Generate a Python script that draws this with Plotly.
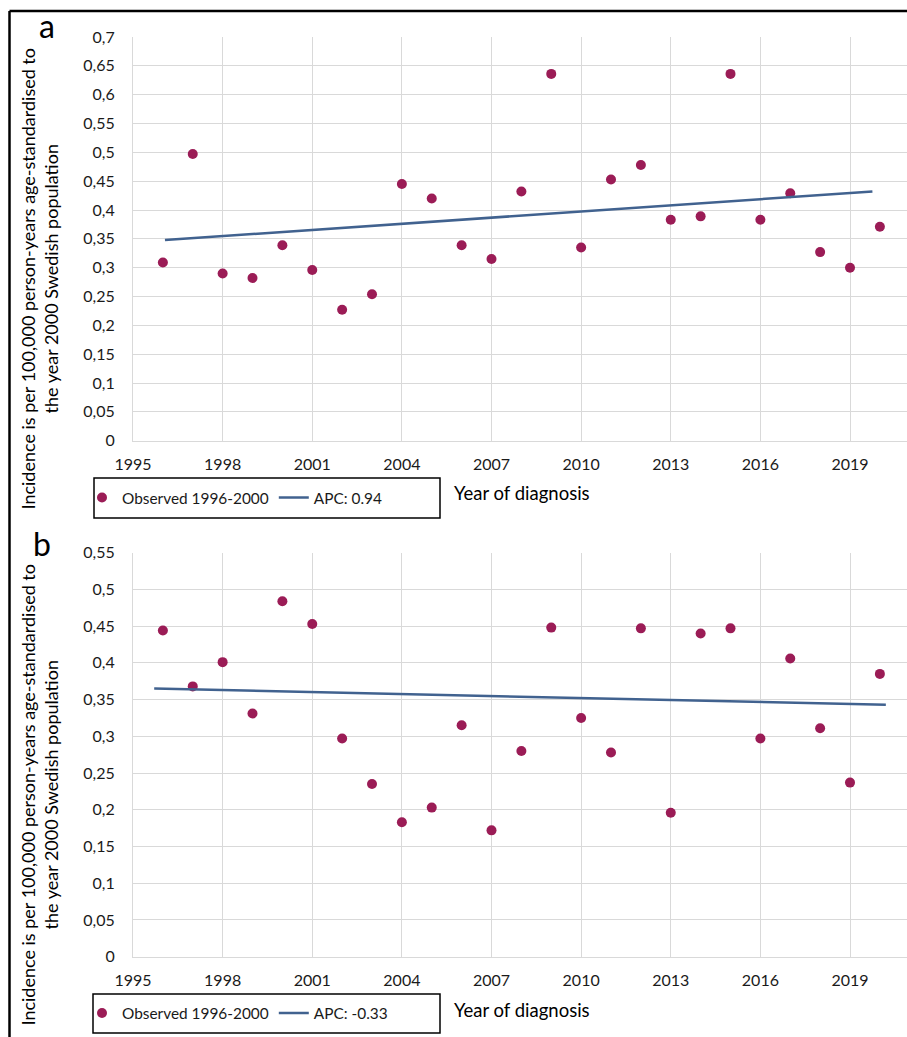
import plotly.graph_objects as go

W, H = 907, 1037

years = list(range(1996, 2021))

# Panel a
obs_a = [0.309, 0.497, 0.290, 0.282, 0.339, 0.296, 0.227, 0.254, 0.445, 0.420,
         0.339, 0.315, 0.432, 0.636, 0.335, 0.453, 0.478, 0.383, 0.389, 0.636,
         0.383, 0.429, 0.327, 0.300, 0.371]
trend_a_x = [1996.07, 2019.75]
trend_a_y = [0.348, 0.432]

# Panel b
obs_b = [0.444, 0.368, 0.401, 0.331, 0.484, 0.453, 0.297, 0.235, 0.183, 0.203,
         0.315, 0.172, 0.280, 0.448, 0.325, 0.278, 0.447, 0.196, 0.440, 0.447,
         0.297, 0.406, 0.311, 0.237, 0.385]
trend_b_x = [1995.71, 2020.2]
trend_b_y = [0.365, 0.343]

x_ticks = [1995, 1998, 2001, 2004, 2007, 2010, 2013, 2016, 2019]
y_ticks_a = [0, 0.05, 0.1, 0.15, 0.2, 0.25, 0.3, 0.35, 0.4, 0.45, 0.5, 0.55, 0.6, 0.65, 0.7]
y_labels_a = ["0", "0,05", "0,1", "0,15", "0,2", "0,25", "0,3", "0,35", "0,4", "0,45",
              "0,5", "0,55", "0,6", "0,65", "0,7"]
y_ticks_b = y_ticks_a[:12]
y_labels_b = y_labels_a[:12]

obs_name = "Observed 1996-2000"
apc_a = "APC: 0.94"
apc_b = "APC: -0.33"
y_title = "Incidence is per 100,000 person-years age-standardised to<br>the year 2000 Swedish population"
x_title = "Year of diagnosis"

MARK = "#9b1c56"
LINE = "#41628f"
GRID = "#d9d9d9"
FONT = "Lato"
TXT = "#1a1a1a"

fig = go.Figure()
fig.add_trace(go.Scatter(x=years, y=obs_a, mode="markers", name=obs_name,
                         marker=dict(color=MARK, size=10), xaxis="x", yaxis="y", legend="legend"))
fig.add_trace(go.Scatter(x=trend_a_x, y=trend_a_y, mode="lines", name=apc_a,
                         line=dict(color=LINE, width=2.5), xaxis="x", yaxis="y", legend="legend"))
fig.add_trace(go.Scatter(x=years, y=obs_b, mode="markers", name=obs_name,
                         marker=dict(color=MARK, size=10), xaxis="x2", yaxis="y2", legend="legend2"))
fig.add_trace(go.Scatter(x=trend_b_x, y=trend_b_y, mode="lines", name=apc_b,
                         line=dict(color=LINE, width=2.5), xaxis="x2", yaxis="y2", legend="legend2"))

def px_x(p):
    return p / W

def px_y(p):
    return 1 - p / H

xr = [1995, 1995 + (W - 133) / 29.875]
common_x = dict(range=xr, tickvals=x_ticks, showgrid=True, gridcolor=GRID, gridwidth=1,
                showline=True, linecolor=GRID, linewidth=1, zeroline=False,
                tickfont=dict(family=FONT, size=16, color=TXT), ticks="",
                ticklabelstandoff=9, automargin=False)
common_y = dict(showgrid=True, gridcolor=GRID, gridwidth=1, showline=True, linecolor=GRID,
                linewidth=1, zeroline=False, tickfont=dict(family=FONT, size=16, color=TXT),
                ticks="", ticklabelstandoff=14, automargin=False)

fig.update_layout(
    width=W, height=H,
    margin=dict(l=0, r=0, t=0, b=0, pad=0, autoexpand=False),
    paper_bgcolor="white", plot_bgcolor="white",
    font=dict(family=FONT, color=TXT),
    showlegend=True,
    xaxis=dict(domain=[px_x(133), 1], anchor="y", **common_x),
    yaxis=dict(domain=[px_y(440.7), px_y(37)], anchor="x", range=[0, 0.7],
               tickvals=y_ticks_a, ticktext=y_labels_a, **common_y),
    xaxis2=dict(domain=[px_x(133), 1], anchor="y2", **common_x),
    yaxis2=dict(domain=[px_y(956.7), px_y(552.7)], anchor="x2", range=[0, 0.55],
                tickvals=y_ticks_b, ticktext=y_labels_b, **common_y),
    legend=dict(orientation="h", x=px_x(82), y=px_y(498), xanchor="left", yanchor="middle",
                font=dict(family=FONT, size=15.4, color=TXT), bgcolor="rgba(0,0,0,0)",
                borderwidth=0, itemclick=False),
    legend2=dict(orientation="h", x=px_x(82), y=px_y(1013.5), xanchor="left", yanchor="middle",
                 font=dict(family=FONT, size=15.4, color=TXT), bgcolor="rgba(0,0,0,0)",
                 borderwidth=0, itemclick=False),
)

shapes = [
    # legend boxes
    dict(type="rect", xref="paper", yref="paper", x0=px_x(94), x1=px_x(440),
         y0=px_y(518), y1=px_y(478), line=dict(color="black", width=1.5)),
    dict(type="rect", xref="paper", yref="paper", x0=px_x(93), x1=px_x(440),
         y0=px_y(1033), y1=px_y(994), line=dict(color="black", width=1.5)),
    # outer frame
    dict(type="line", xref="paper", yref="paper", x0=px_x(9.5), x1=px_x(9.5),
         y0=0, y1=px_y(11), line=dict(color="black", width=2.5)),
    dict(type="line", xref="paper", yref="paper", x0=px_x(9.5), x1=1,
         y0=px_y(11), y1=px_y(11), line=dict(color="black", width=2.5)),
]
fig.update_layout(shapes=shapes)

annotations = [
    dict(text="a", x=px_x(47), y=px_y(25), xref="paper", yref="paper", showarrow=False,
         xanchor="center", yanchor="middle", font=dict(family=FONT, size=32, color="black")),
    dict(text="b", x=px_x(42), y=px_y(543), xref="paper", yref="paper", showarrow=False,
         xanchor="center", yanchor="middle", font=dict(family=FONT, size=32, color="black")),
    dict(text=y_title, x=px_x(38.5), y=px_y(279), xref="paper", yref="paper", showarrow=False,
         textangle=-90, xanchor="center", yanchor="middle",
         font=dict(family=FONT, size=18, color="black")),
    dict(text=y_title, x=px_x(38.5), y=px_y(795), xref="paper", yref="paper", showarrow=False,
         textangle=-90, xanchor="center", yanchor="middle",
         font=dict(family=FONT, size=18, color="black")),
    dict(text=x_title, x=px_x(452), y=px_y(493), xref="paper", yref="paper", showarrow=False,
         xanchor="left", yanchor="middle", font=dict(family=FONT, size=18.5, color="black")),
    dict(text=x_title, x=px_x(452), y=px_y(1010), xref="paper", yref="paper", showarrow=False,
         xanchor="left", yanchor="middle", font=dict(family=FONT, size=18.5, color="black")),
]
fig.update_layout(annotations=annotations)

fig.write_html("out.html", config={"displayModeBar": False},
               post_script="document.body.style.margin='0';document.body.style.overflow='hidden';")
